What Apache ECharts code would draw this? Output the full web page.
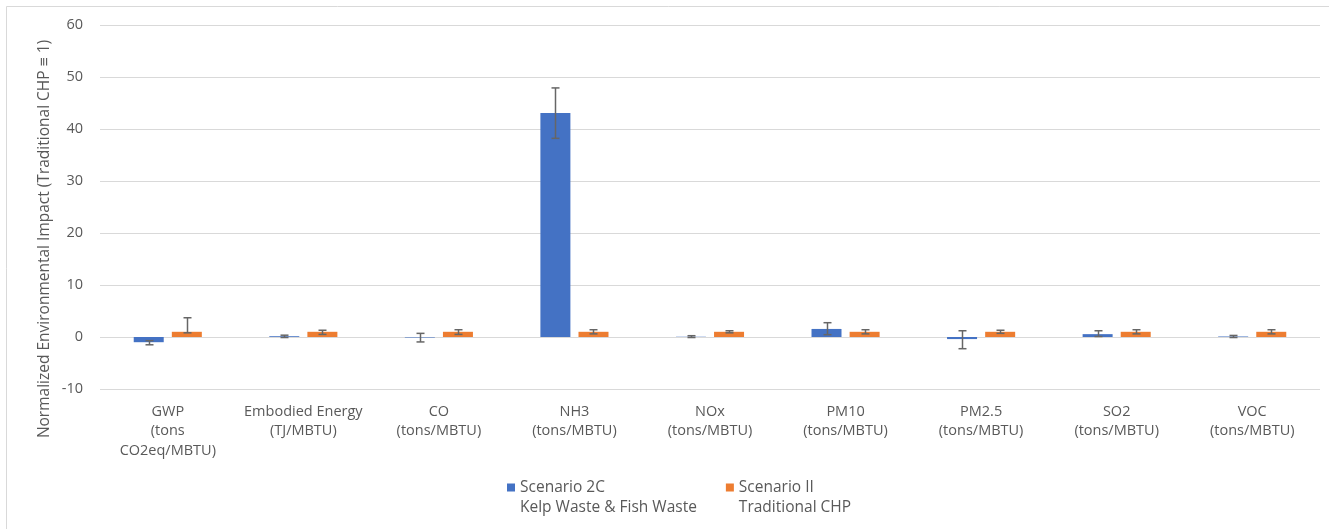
<!DOCTYPE html>
<html>
<head>
<meta charset="utf-8">
<title>Normalized Environmental Impact</title>
<script src="https://cdn.jsdelivr.net/npm/echarts@6/dist/echarts.min.js"></script>
<style>
  html, body { margin: 0; padding: 0; background: #fff; }
  #chart { width: 1329px; height: 529px; }
</style>
</head>
<body>
<div id="chart"></div>
<script>
// categories (x axis)
var categories = [
	'GWP\n(tons\nCO2eq/MBTU)',
	'Embodied Energy\n(TJ/MBTU)',
	'CO\n(tons/MBTU)',
	'NH3\n(tons/MBTU)',
	'NOx\n(tons/MBTU)',
	'PM10\n(tons/MBTU)',
	'PM2.5\n(tons/MBTU)',
	'SO2\n(tons/MBTU)',
	'VOC\n(tons/MBTU)'
];
var seriesNames = ['Scenario 2C', 'Scenario II'];
var seriesSubtitles = ['Kelp Waste & Fish Waste', 'Traditional CHP'];

// bar values
var scenario2C = [-1.0, 0.15, -0.1, 43.1, 0.05, 1.55, -0.4, 0.55, 0.1];
var scenarioII = [1, 1, 1, 1, 1, 1, 1, 1, 1];

// error bar ends (low / high)
var scenario2CLow  = [-1.5, -0.1, -0.95, 38.2, -0.1, 0.45, -2.25, 0.1, -0.1];
var scenario2CHigh = [-0.7, 0.35, 0.7, 47.9, 0.25, 2.75, 1.2, 1.2, 0.3];
var scenarioIILow  = [0.8, 0.5, 0.5, 0.6, 0.8, 0.6, 0.7, 0.6, 0.6];
var scenarioIIHigh = [3.7, 1.3, 1.4, 1.4, 1.2, 1.4, 1.3, 1.4, 1.4];

// y axis
var yMin = -10, yMax = 60, yStep = 10;

var FONT = '"Open Sans", "Noto Sans", sans-serif';
var TEXT = '#595959';
var GRID = '#D9D9D9';
var BAR_W = 30, BAR_GAP = 0.27;

var chart = echarts.init(document.getElementById('chart'));

// error bars drawn as custom series on the same scales
function errorSeries(low, high, side) {
	var data = [];
	for (var i = 0; i < low.length; i++) {
		data.push([i, low[i], high[i]]);
	}
	return {
		type: 'custom',
		z: 10,
		silent: true,
		data: data,
		encode: { x: 0, y: [1, 2] },
		renderItem: function(params, api) {
			var shift = side * BAR_W * (1 + BAR_GAP) / 2;
			var lo = api.coord([api.value(0), api.value(1)]);
			var hi = api.coord([api.value(0), api.value(2)]);
			var x = Math.round(lo[0] + shift) + 0.5;
			var cap = 4;
			var st = { stroke: '#666666', lineWidth: 1.5 };
			return {
				type: 'group',
				children: [
					{ type: 'line', shape: { x1: x, y1: lo[1], x2: x, y2: hi[1] }, style: st },
					{ type: 'line', shape: { x1: x - cap, y1: lo[1], x2: x + cap, y2: lo[1] }, style: st },
					{ type: 'line', shape: { x1: x - cap, y1: hi[1], x2: x + cap, y2: hi[1] }, style: st }
				]
			};
		}
	};
}

var option = {
	animation: false,
	backgroundColor: '#fff',
	textStyle: { fontFamily: FONT },
	color: ['#4472C4', '#ED7D31'],
	grid: { left: 100, right: 9, top: 25, bottom: 140, containLabel: false },
	graphic: [
		{
			type: 'rect',
			shape: { x: 6.5, y: 6.5, width: 1340, height: 540 },
			style: { fill: 'none', stroke: GRID, lineWidth: 1 },
			silent: true
		},
		{
			type: 'text',
			x: 45,
			y: 239,
			rotation: Math.PI / 2,
			style: {
				text: 'Normalized Environmental Impact (Traditional CHP \u2261 1)',
				font: '15.5px ' + FONT,
				fill: TEXT,
				align: 'center',
				verticalAlign: 'middle'
			},
			silent: true
		}
	],
	legend: {
		data: seriesNames,
		left: 507,
		top: 478,
		padding: 0,
		itemGap: 29,
		itemWidth: 8,
		itemHeight: 28,
		icon: 'path://M0,0h8v8h-8z M0,28h0.01',
		textStyle: { fontSize: 15.5, color: TEXT, lineHeight: 19.5, fontFamily: FONT },
		formatter: function(name) {
			var i = seriesNames.indexOf(name);
			return name + '\n' + seriesSubtitles[i];
		}
	},
	xAxis: {
		type: 'category',
		data: categories,
		axisLine: { show: false, onZero: false },
		axisTick: { show: false },
		axisLabel: {
			color: TEXT,
			fontSize: 14.5,
			lineHeight: 19.5,
			margin: 13,
			interval: 0
		}
	},
	yAxis: {
		type: 'value',
		min: yMin,
		max: yMax,
		interval: yStep,
		axisLine: { show: false },
		axisTick: { show: false },
		axisLabel: { color: TEXT, fontSize: 14.5, margin: 17 },
		splitLine: { lineStyle: { color: GRID, width: 1 } }
	},
	series: [
		{
			name: seriesNames[0],
			type: 'bar',
			barWidth: BAR_W,
			barGap: (BAR_GAP * 100) + '%',
			data: scenario2C
		},
		{
			name: seriesNames[1],
			type: 'bar',
			barWidth: BAR_W,
			barGap: (BAR_GAP * 100) + '%',
			data: scenarioII
		},
		errorSeries(scenario2CLow, scenario2CHigh, -1),
		errorSeries(scenarioIILow, scenarioIIHigh, 1)
	]
};

chart.setOption(option);
</script>
</body>
</html>
